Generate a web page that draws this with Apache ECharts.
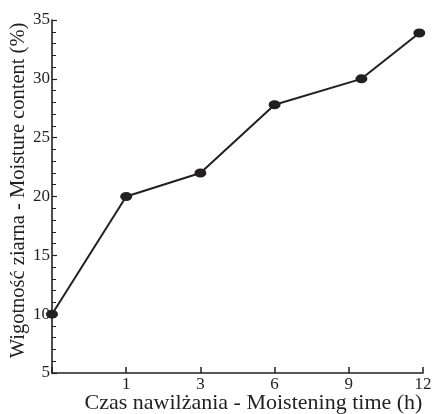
<!DOCTYPE html>
<html><head><meta charset="utf-8">
<script src="https://cdn.jsdelivr.net/npm/echarts@6/dist/echarts.min.js"></script>
<style>html,body{margin:0;padding:0;background:#fff}#c{width:432px;height:414px}</style>
</head><body><div id="c"></div>
<script>
// tick labels of the time axis (evenly spaced positions in the original figure)
var timeTickLabels = ['', '1', '3', '6', '9', '12'];
var timePositions = [0, 1, 2, 3, 4.17, 4.95];
// moisture content (%)
var moisture = [10, 20, 22, 27.8, 30, 33.9];

var ink = '#231f20';
var font = '"Liberation Serif", "DejaVu Serif", serif';
var chart = echarts.init(document.getElementById('c'));
chart.setOption({
  animation: false,
  backgroundColor: '#fff',
  grid: {left: 52, right: 9, top: 20, bottom: 41, containLabel: false, outerBoundsMode: 'none'},
  xAxis: {
    type: 'value', min: 0, max: 5, interval: 1,
    name: 'Czas nawilżania - Moistening time (h)',
    nameLocation: 'middle', nameGap: 19, nameMoveOverlap: false,
    nameTextStyle: {fontFamily: font, fontSize: 22, color: ink, padding: [0, 0, 0, 32]},
    axisLine: {lineStyle: {color: ink, width: 1.6}},
    axisTick: {inside: true, length: 6, lineStyle: {color: ink, width: 1.5}},
    axisLabel: {fontFamily: font, fontSize: 17, color: ink, margin: 3,
      formatter: function (v) { return timeTickLabels[Math.round(v)] || ''; }},
    splitLine: {show: false}
  },
  yAxis: {
    type: 'value', min: 5, max: 35, interval: 5,
    name: 'Wigotność ziarna - Moisture content (%)',
    nameLocation: 'middle', nameGap: 23, nameRotate: 90, nameMoveOverlap: false,
    nameTextStyle: {fontFamily: font, fontSize: 20.5, color: ink, padding: [0, 0, 0, 12]},
    axisLine: {show: true, lineStyle: {color: ink, width: 1.6}},
    axisTick: {show: true, inside: true, length: 5, lineStyle: {color: ink, width: 1.2}},
    minorTick: {show: true, splitNumber: 5, length: 4, lineStyle: {color: ink, width: 1}},
    axisLabel: {fontFamily: font, fontSize: 17, color: ink, margin: 2},
    splitLine: {show: false}
  },
  series: [{
    type: 'line',
    data: timePositions.map(function (x, i) { return [x, moisture[i]]; }),
    lineStyle: {color: ink, width: 2},
    itemStyle: {color: ink},
    symbol: 'circle', symbolSize: [12, 9],
    showSymbol: true
  }]
});
</script></body></html>
